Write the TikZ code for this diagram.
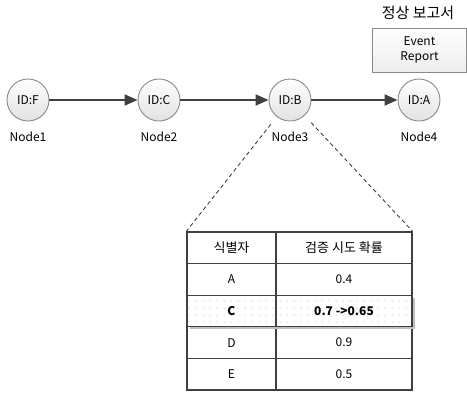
\documentclass[tikz,border=0pt]{standalone}
\usepackage{fontspec}
\setmainfont{Noto Sans CJK KR}
\usetikzlibrary{arrows.meta,patterns.meta}
\definecolor{linec}{HTML}{404040}
\definecolor{circb}{HTML}{8A8A8A}
\definecolor{circf}{HTML}{E2E2E2}
\definecolor{boxf}{HTML}{EDEDED}
\tikzset{
  circ/.style={circle, draw=circb, line width=0.9pt, minimum size=42pt, inner sep=0pt,
    top color=white, bottom color=circf, font=\fontsize{12}{14}\selectfont},
  nlabel/.style={font=\fontsize{12}{14}\selectfont, inner sep=0pt},
  arr/.style={draw=linec, line width=2pt, -{Triangle[length=13pt,width=11pt]}},
  dline/.style={draw=linec, line width=0.9pt, dash pattern=on 4pt off 3pt, shorten <=31pt},
  cellA/.style={draw=linec, line width=1.3pt, minimum width=89pt, minimum height=31.6pt, inner sep=0pt, font=\fontsize{12}{14}\selectfont},
  cellB/.style={cellA, minimum width=136pt},
  hl/.style={preaction={fill=white}, pattern={Dots[distance=7pt,radius=0.5pt]}, pattern color=black!40, font=\fontsize{12}{14}\selectfont\bfseries},
  evbox/.style={draw=circb, line width=0.9pt, top color=white, bottom color=boxf, minimum width=94pt, minimum height=44pt, inner sep=0pt, align=center, font=\fontsize{12}{15}\selectfont}
}
\begin{document}
\begin{tikzpicture}[x=1pt,y=-1pt]
\useasboundingbox (0,0) rectangle (467,392);
% nodes
\node[circ] (n1) at (28,100) {ID:F};
\node[circ] (n2) at (159,100) {ID:C};
\node[circ] (n3) at (290,100) {ID:B};
\node[circ] (n4) at (419,100) {ID:A};
\node[nlabel] (l1) at (28,137) {Node1};
\node[nlabel] (l2) at (159,137) {Node2};
\node[nlabel] (l3) at (290,137) {Node3};
\node[nlabel] (l4) at (419,137) {Node4};
\draw[arr] (n1) -- (n2);
\draw[arr] (n2) -- (n3);
\draw[arr] (n3) -- (n4);
% event report
\node[font=\fontsize{15}{17}\selectfont, inner sep=0pt] (title) at (418,13) {정상 보고서};
\node[evbox] (ev) at (419.5,50) {Event\\Report};
% table
\node[cellA, font=\fontsize{13}{15}\selectfont] (h1) at (231.5,247.8) {식별자};
\node[cellB, font=\fontsize{13}{15}\selectfont] (h2) at (344,247.8) {검증 시도 확률};
\node[cellA] (a1) at (231.5,279.4) {A};
\node[cellB] (a2) at (344,279.4) {0.4};
\node[cellA] (d1) at (231.5,342.6) {D};
\node[cellB] (d2) at (344,342.6) {0.9};
\node[cellA] (e1) at (231.5,374.2) {E};
\node[cellB] (e2) at (344,374.2) {0.5};
\fill[black!25] (189.5,297.5) rectangle (414.5,329.3);
\node[cellA, hl] (c1) at (231.5,311) {C};
\node[cellB, hl] (c2) at (344,311) {0.7 ->0.65};
% dashed lines
\draw[dline] (n3.center) -- (h1.north west);
\draw[dline] (n3.center) -- (h2.north east);
\end{tikzpicture}
\end{document}
